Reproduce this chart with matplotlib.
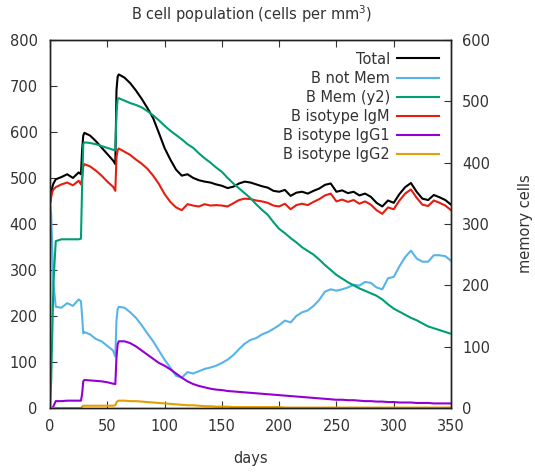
import matplotlib
matplotlib.use("Agg")
import matplotlib.pyplot as plt

# -----------------------
# Data
# -----------------------
days = [0, 1, 2, 3, 5, 10, 15, 20, 25, 27, 28, 29, 30, 35, 40, 45, 50, 55, 57, 58, 59, 60,
        65, 70, 75, 80, 85, 90, 95, 100, 105, 110, 115, 120, 125, 130, 135, 140, 145, 150,
        155, 160, 165, 170, 175, 180, 185, 190, 195, 200, 205, 210, 215, 220, 225, 230,
        235, 240, 245, 250, 255, 260, 265, 270, 275, 280, 285, 290, 295, 300, 305, 310,
        315, 320, 325, 330, 335, 340, 345, 350]

total = [445, 465, 480, 488, 497, 502, 508, 500, 512, 508, 560, 592, 598, 592, 580, 566, 552, 538, 530, 690, 720, 725,
         718, 706, 690, 672, 652, 630, 598, 565, 540, 518, 505, 508, 500, 495, 492, 490, 486, 483,
         478, 481, 488, 492, 490, 486, 482, 479, 472, 470, 474, 461, 468, 470, 466, 472,
         477, 485, 488, 470, 473, 467, 470, 462, 466, 459, 446, 438, 451, 446, 465, 480,
         489, 470, 455, 452, 463, 458, 452, 442]

b_not_mem = [445, 420, 345, 270, 220, 218, 228, 222, 236, 232, 200, 162, 165, 160, 150, 145, 135, 125, 112, 190, 215, 220,
             218, 208, 196, 180, 162, 145, 125, 105, 88, 70, 66, 78, 75, 80, 85, 88, 92, 98,
             105, 115, 128, 140, 148, 152, 160, 165, 172, 180, 190, 186, 200, 208, 212, 222,
             235, 253, 258, 255, 258, 262, 268, 266, 274, 272, 262, 258, 282, 285, 308, 328,
             342, 325, 318, 318, 332, 332, 330, 320]

# memory cells, plotted on the right axis
b_mem = [0, 45, 125, 205, 272, 275, 275, 275, 275, 276, 360, 430, 433, 432, 430, 427, 424, 421, 420, 480, 503, 505,
         501, 497, 494, 490, 484, 477, 469, 460, 452, 445, 438, 430, 424, 415, 407, 400, 392, 385,
         375, 366, 358, 350, 342, 332, 323, 315, 303, 292, 285, 277, 270, 262, 256, 250,
         242, 233, 225, 217, 211, 205, 200, 195, 191, 187, 183, 177, 169, 162, 157, 152,
         147, 143, 138, 133, 130, 127, 124, 121]

igm = [443, 458, 470, 475, 480, 486, 490, 484, 494, 486, 500, 525, 530, 525, 516, 505, 492, 481, 472, 545, 560, 564,
       557, 550, 540, 531, 520, 505, 487, 465, 448, 436, 430, 443, 440, 438, 443, 440, 441, 440,
       438, 445, 452, 455, 454, 451, 449, 446, 440, 438, 444, 432, 441, 444, 441, 448,
       454, 462, 466, 449, 453, 448, 452, 444, 449, 442, 430, 422, 436, 432, 451, 466,
       475, 457, 442, 439, 451, 446, 440, 430]

igg1 = [0, 0, 0, 4, 15, 15, 16, 16, 16, 16, 30, 58, 61, 60, 59, 58, 56, 53, 52, 110, 138, 145,
        145, 141, 134, 125, 116, 107, 98, 92, 84, 75, 66, 58, 52, 48, 45, 42, 40, 39,
        37, 36, 35, 34, 33, 32, 31, 30, 29, 28, 27, 26, 25, 24, 23, 22,
        21, 20, 19, 18, 18, 17, 17, 16, 15, 15, 14, 14, 13, 13, 12, 12,
        12, 11, 11, 11, 10, 10, 10, 10]

igg2 = [0, 0, 0, 0, 0, 0, 0, 0, 0, 0, 3, 5, 5, 5, 5, 5, 5, 5, 6, 12, 15, 16,
        16, 15, 15, 14, 13, 12, 11, 10, 9, 8, 7, 6, 6, 5, 4, 4, 3, 3,
        3, 2, 2, 2, 2, 2, 2, 2, 2, 2, 1, 1, 1, 1, 1, 1,
        1, 1, 1, 1, 1, 1, 1, 1, 1, 1, 1, 1, 1, 1, 1, 1,
        1, 1, 1, 1, 1, 1, 1, 1]

x_ticks = [0, 50, 100, 150, 200, 250, 300, 350]
y1_ticks = [0, 100, 200, 300, 400, 500, 600, 700, 800]
y2_ticks = [0, 100, 200, 300, 400, 500, 600]

# -----------------------
# Plot
# -----------------------
plt.rcParams['font.family'] = ['DejaVu Sans']
fs = 10.5

fig = plt.figure(figsize=(5.35, 4.75), dpi=100)
ax1 = fig.add_axes([0.0935, 0.141, 0.7495, 0.775])
ax2 = ax1.twinx()

lw = 1.5
l_tot = ax1.plot(days, total, color='black', lw=lw, label='Total')
l_nm = ax1.plot(days, b_not_mem, color='#56b4e9', lw=lw, label='B not Mem')
l_mem = ax2.plot(days, b_mem, color='#009e73', lw=lw, label='B Mem (y2)')
l_igm = ax1.plot(days, igm, color='#e51e10', lw=lw, label='B isotype IgM')
l_g1 = ax1.plot(days, igg1, color='#9400d3', lw=lw, label='B isotype IgG1')
l_g2 = ax1.plot(days, igg2, color='#e69f00', lw=lw, label='B isotype IgG2')

ax1.set_xlim(0, 350)
ax1.set_ylim(0, 800)
ax2.set_ylim(0, 600)
ax1.set_xticks(x_ticks)
ax1.set_yticks(y1_ticks)
ax2.set_yticks(y2_ticks)

ax1.tick_params(axis='x', direction='in', length=5, pad=8, labelsize=fs,
                top=True, colors='#333333')
ax1.tick_params(axis='y', direction='in', length=5, pad=9, labelsize=fs,
                colors='#333333')
ax2.tick_params(axis='y', direction='in', length=5, pad=8, labelsize=fs,
                colors='#333333')
for ax in (ax1, ax2):
    for s in ax.spines.values():
        s.set_linewidth(1.0)
        s.set_color('#222222')

ax1.set_xlabel('days', fontsize=fs, color='#333333', labelpad=12)
ax2.set_ylabel('memory cells', fontsize=fs, color='#333333', labelpad=20)
fig.suptitle('B cell population (cells per mm$^3$)', fontsize=fs, color='#333333',
             x=0.47, y=0.993)

lines = l_tot + l_nm + l_mem + l_igm + l_g1 + l_g2
labels = [l.get_label() for l in lines]
ax2.legend(lines, labels, loc='upper right', frameon=False, markerfirst=False,
           fontsize=fs, handlelength=2.9, labelspacing=0.28, handletextpad=0.5,
           borderaxespad=0.4, labelcolor='#333333')

fig.savefig('out.png', dpi=100)
